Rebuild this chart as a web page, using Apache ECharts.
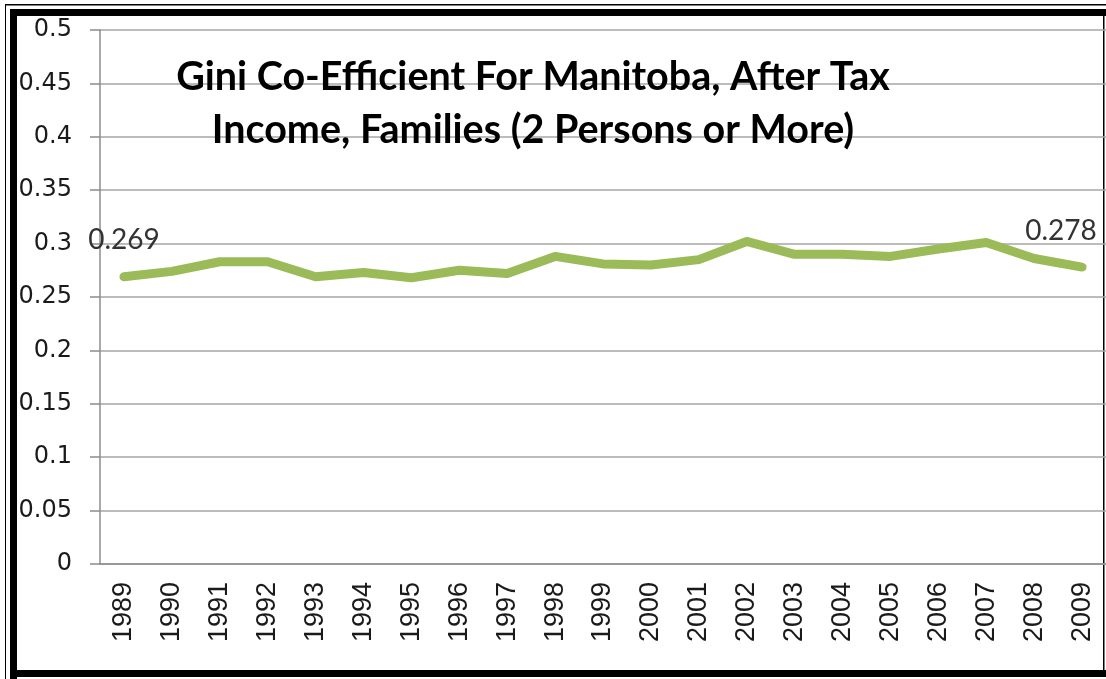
<!DOCTYPE html>
<html>
<head>
<meta charset="utf-8">
<script src="https://cdn.jsdelivr.net/npm/echarts@6/dist/echarts.min.js"></script>
<style>
  html, body { margin: 0; padding: 0; background: #fff; }
  #chart { width: 1106px; height: 679px; }
</style>
</head>
<body>
<div id="chart"></div>
<script>
// years on the category axis
const years = ["1989", "1990", "1991", "1992", "1993", "1994", "1995", "1996", "1997", "1998",
  "1999", "2000", "2001", "2002", "2003", "2004", "2005", "2006", "2007", "2008", "2009"];
// gini values
const gini = [0.269, 0.274, 0.283, 0.283, 0.269, 0.273, 0.268, 0.275, 0.272, 0.288,
  0.281, 0.280, 0.285, 0.302, 0.290, 0.290, 0.288, 0.295, 0.301, 0.286, 0.278];
const yTicks = { min: 0, max: 0.5, step: 0.05 };
const titleLines = ["Gini Co-Efficient For Manitoba, After Tax", "Income, Families (2 Persons or More)"];

const chart = echarts.init(document.getElementById("chart"));

const labelStyle = {
  show: true,
  position: "top",
  distance: 22,
  fontFamily: "Lato",
  fontSize: 28,
  color: "#333",
  formatter: function (p) { return p.value; }
};

// only first and last points carry a label
const seriesData = gini.map(function (v, i) {
  if (i === 0) {
    return { value: v, label: labelStyle };
  }
  if (i === gini.length - 1) {
    return { value: v, label: Object.assign({}, labelStyle, { offset: [-21, 0] }) };
  }
  return { value: v, label: { show: false } };
});

const option = {
  backgroundColor: "#fff",
  animation: false,
  title: {
    text: titleLines.join("\n"),
    left: 528,
    top: 46,
    textAlign: "center",
    textStyle: {
      fontFamily: "Lato",
      fontWeight: "bold",
      fontSize: 39.5,
      lineHeight: 53,
      color: "#000"
    }
  },
  grid: { left: 100, top: 30, width: 1010, height: 534 },
  xAxis: {
    type: "category",
    data: years,
    boundaryGap: true,
    axisLine: { lineStyle: { color: "#8c8c8c", width: 1.5 } },
    axisTick: { length: 10, lineStyle: { color: "#8c8c8c", width: 1.5 } },
    axisLabel: {
      rotate: 90,
      margin: 18,
      fontFamily: "Liberation Sans",
      fontSize: 27,
      color: "#1a1a1a"
    }
  },
  yAxis: {
    type: "value",
    min: yTicks.min,
    max: yTicks.max,
    interval: yTicks.step,
    axisLine: { show: true, lineStyle: { color: "#8c8c8c", width: 1.5 } },
    axisTick: { show: true, length: 10, lineStyle: { color: "#8c8c8c", width: 1.5 } },
    axisLabel: {
      margin: 28,
      fontFamily: "DejaVu Sans",
      fontSize: 24,
      color: "#1a1a1a"
    },
    splitLine: { lineStyle: { color: "#a6a6a6", width: 1.5 } }
  },
  series: [
    {
      type: "line",
      data: seriesData,
      showSymbol: true,
      symbol: "circle",
      symbolSize: 1,
      itemStyle: { color: "rgba(155,187,89,0)", borderWidth: 0 },
      lineStyle: { color: "#9bbb59", width: 9, cap: "round", join: "round" }
    }
  ],
  // picture frame around the chart
  graphic: [
    { type: "rect", shape: { x: 5, y: 4, width: 1, height: 675 }, style: { fill: "#000" } },
    { type: "rect", shape: { x: 5, y: 4, width: 1101, height: 1.5 }, style: { fill: "#000" } },
    { type: "rect", shape: { x: 10, y: 9, width: 7, height: 670 }, style: { fill: "#000" } },
    { type: "rect", shape: { x: 10, y: 9, width: 1096, height: 7 }, style: { fill: "#000" } },
    { type: "rect", shape: { x: 10, y: 670, width: 1096, height: 7 }, style: { fill: "#000" } },
    { type: "rect", shape: { x: 1103, y: 16, width: 1.5, height: 654 }, style: { fill: "#000" } }
  ]
};

chart.setOption(option);
</script>
</body>
</html>
